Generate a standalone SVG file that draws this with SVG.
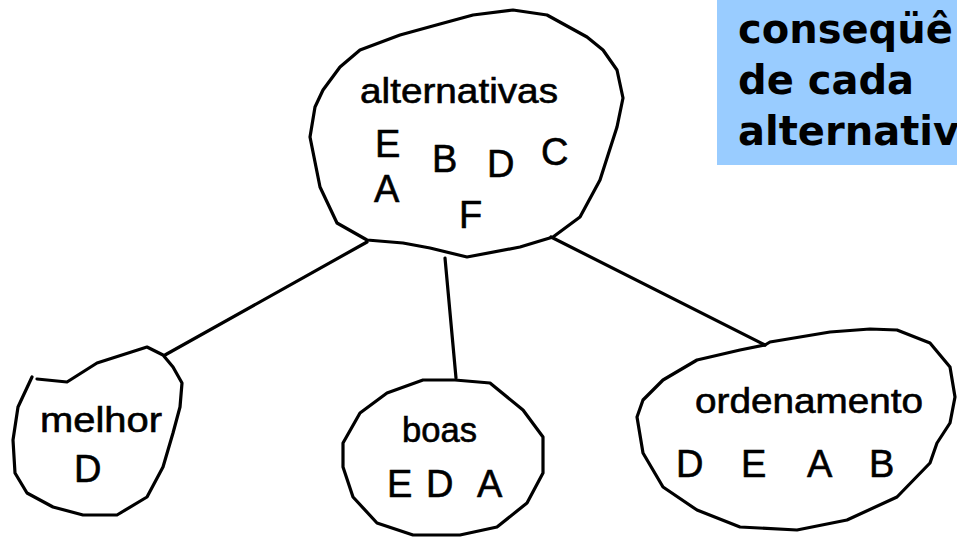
<svg xmlns="http://www.w3.org/2000/svg" width="957" height="539" viewBox="0 0 957 539">
<style>
.blob{fill:none;stroke:#000;stroke-width:3.2;stroke-linejoin:round;stroke-linecap:round}
.conn{fill:none;stroke:#000;stroke-width:3.2;stroke-linecap:round}
.hw{font-family:"Liberation Sans",Arial,sans-serif;fill:#000;stroke:#000;stroke-width:0.6}
.lbl{font-size:35px}
.let{font-size:38px}
.note{font-family:"DejaVu Sans",Verdana,sans-serif;font-weight:bold;font-size:40px;fill:#000}
</style>
<rect width="957" height="539" fill="#fff"/>
<g id="note">
<rect x="717" y="0" width="250" height="165" fill="#99ccff"/>
<text class="note" x="738" y="43">conseqüê</text>
<text class="note" x="738" y="94">de cada</text>
<text class="note" x="738" y="145">alternativ</text>
</g>
<g id="connectors">
<path class="conn" d="M367,242 L165,355"/>
<path class="conn" d="M445,258 L456,378"/>
<path class="conn" d="M551,237 L765,345"/>
</g>
<g id="alternativas">
<path class="blob" d="M323,90 L340,67 L360,50 L400,35 L440,24 L473,15 L513,10 L547,15 L587,37 L603,50 L617,70 L623,98 L617,127 L608,155 L600,180 L580,217 L553,237 L520,247 L467,257 L430,248 L403,243 L367,240 L337,223 L320,187 L310,137 L315,107 Z"/>
<text class="hw lbl" x="360" y="103" textLength="198" lengthAdjust="spacingAndGlyphs">alternativas</text>
<text class="hw let" x="375" y="157">E</text>
<text class="hw let" x="374" y="202">A</text>
<text class="hw let" x="432" y="172">B</text>
<text class="hw let" x="487" y="177">D</text>
<text class="hw let" x="541" y="165">C</text>
<text class="hw let" x="459" y="228">F</text>
</g>
<g id="melhor">
<path class="blob" d="M37,379 L67,382 L97,363 L147,347 L163,355 L173,367 L182,383 L180,407 L173,433 L163,467 L147,497 L117,515 L83,515 L53,507 L27,493 L15,473 L13,440 L18,407 L32,377"/>
<text class="hw lbl" x="40" y="432" textLength="122" lengthAdjust="spacingAndGlyphs">melhor</text>
<text class="hw let" x="74" y="482">D</text>
</g>
<g id="boas">
<path class="blob" d="M455,380 L423,380 L387,393 L360,413 L343,443 L343,467 L353,497 L377,523 L413,535 L460,535 L497,527 L527,503 L543,473 L543,437 L523,410 L490,383 Z"/>
<text class="hw lbl" x="402" y="442" textLength="75" lengthAdjust="spacingAndGlyphs">boas</text>
<text class="hw let" x="387" y="497">E</text>
<text class="hw let" x="426" y="497">D</text>
<text class="hw let" x="477" y="497">A</text>
</g>
<g id="ordenamento">
<path class="blob" d="M765,345 L770,342 L830,332 L870,329 L897,330 L930,343 L950,367 L955,397 L950,423 L937,443 L930,463 L897,497 L847,520 L797,530 L740,527 L697,510 L663,487 L643,453 L637,417 L643,400 L663,380 L697,360 L740,350 L765,345"/>
<text class="hw lbl" x="695" y="413" textLength="228" lengthAdjust="spacingAndGlyphs">ordenamento</text>
<text class="hw let" x="676" y="477">D</text>
<text class="hw let" x="741" y="477">E</text>
<text class="hw let" x="807" y="477">A</text>
<text class="hw let" x="869" y="477">B</text>
</g>
</svg>
